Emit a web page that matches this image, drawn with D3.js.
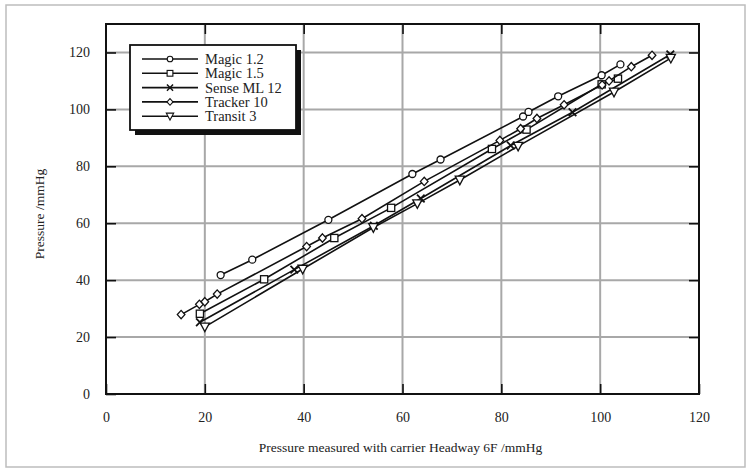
<!DOCTYPE html>
<html>
<head>
<meta charset="utf-8">
<script src="https://cdn.jsdelivr.net/npm/d3@7"></script>
<style>
  body { margin: 0; background: #fff; }
  text { font-family: "Liberation Serif", "DejaVu Serif", serif; fill: #222; }
</style>
</head>
<body>
<svg id="chart" width="751" height="472"></svg>
<script>
// series: [x, y] pairs
var magic12 = [[23.2, 41.8], [29.6, 47.2], [45.0, 61.2], [62.0, 77.3], [67.7, 82.4],
  [84.4, 97.5], [85.5, 99.1], [91.5, 104.6], [100.3, 112.0], [104.1, 115.8]];
var magic15 = [[19.0, 28.2], [32.0, 40.3], [46.2, 54.8], [57.7, 65.4], [78.1, 86.1],
  [85.1, 92.9], [100.3, 108.8], [103.6, 110.8]];
var senseML12 = [[19.0, 25.2], [38.1, 43.7], [54.2, 59.1], [63.7, 68.7], [81.9, 87.3],
  [94.4, 99.0], [114.2, 119.3]];
var tracker10 = [[15.2, 27.9], [18.9, 31.5], [20.0, 32.4], [22.5, 35.1], [40.6, 51.8],
  [43.8, 54.8], [51.8, 61.6], [64.4, 74.7], [79.7, 89.1], [83.9, 93.2], [87.2, 96.8],
  [92.7, 101.6], [100.4, 108.6], [101.8, 110.0], [106.3, 115.0], [110.5, 119.0]];
var transit3 = [[20.0, 23.6], [39.8, 43.9], [54.1, 58.5], [63.0, 66.9], [71.6, 75.2],
  [83.4, 87.1], [102.8, 106.1], [114.3, 118.0]];

var seriesNames = ["Magic 1.2", "Magic 1.5", "Sense ML 12", "Tracker 10", "Transit 3"];
var seriesData = [magic12, magic15, senseML12, tracker10, transit3];
var seriesMarks = ["circle", "square", "cross", "diamond", "triangle"];

var xTicks = [0, 20, 40, 60, 80, 100, 120];
var yTicks = [0, 20, 40, 60, 80, 100, 120];

var svg = d3.select("#chart");
var margin = { left: 106, right: 52, top: 24, bottom: 78 };
var width = 751 - margin.left - margin.right,
    height = 472 - margin.top - margin.bottom;

// light frame round the whole figure
svg.append("rect")
    .attr("x", 6).attr("y", 5)
    .attr("width", 739).attr("height", 462)
    .attr("fill", "none")
    .attr("stroke", "#bdbdbd")
    .attr("stroke-width", 1.5);

var g = svg.append("g").attr("transform", "translate(" + margin.left + "," + margin.top + ")");

var x = d3.scaleLinear().domain([0, 120]).range([0, width]);
var y = d3.scaleLinear().domain([0, 130]).range([height, 0]);

// grid
g.selectAll(".vgrid")
    .data(xTicks.slice(1, -1))
    .enter().append("line")
    .attr("x1", d => x(d)).attr("x2", d => x(d))
    .attr("y1", 0).attr("y2", height)
    .attr("stroke", "#a8a8a8").attr("stroke-width", 2);
g.selectAll(".hgrid")
    .data(yTicks.slice(1))
    .enter().append("line")
    .attr("x1", 0).attr("x2", width)
    .attr("y1", d => y(d)).attr("y2", d => y(d))
    .attr("stroke", "#a8a8a8").attr("stroke-width", 2);

// axes: ticks pointing inward on all four sides
function styleAxis(sel) {
  sel.select(".domain").remove();
  sel.selectAll(".tick line").attr("stroke", "#111").attr("stroke-width", 1.6);
  sel.selectAll(".tick text")
      .style("font-family", "'Liberation Serif', serif")
      .style("font-size", "14px")
      .attr("fill", "#222");
}

g.append("g")
    .attr("transform", "translate(0," + height + ")")
    .call(d3.axisBottom(x).tickValues(xTicks).tickSize(-10).tickPadding(18))
    .call(styleAxis);
g.append("g")
    .call(d3.axisTop(x).tickValues(xTicks.slice(1, -1)).tickSize(-10).tickFormat(""))
    .call(styleAxis);
g.append("g")
    .call(d3.axisLeft(y).tickValues(yTicks).tickSize(-10).tickPadding(16))
    .call(styleAxis);
g.append("g")
    .attr("transform", "translate(" + width + ",0)")
    .call(d3.axisRight(y).tickValues(yTicks.slice(1)).tickSize(-10).tickFormat(""))
    .call(styleAxis);

g.append("rect")
    .attr("width", width).attr("height", height)
    .attr("fill", "none").attr("stroke", "#111").attr("stroke-width", 2);

// markers
function drawMark(sel, kind) {
  if (kind === "circle") {
    sel.append("circle").attr("r", 3.5);
  } else if (kind === "square") {
    sel.append("rect").attr("x", -3.6).attr("y", -3.6).attr("width", 7.2).attr("height", 7.2);
  } else if (kind === "cross") {
    sel.append("path").attr("d", "M-3.8,-3.8L3.8,3.8M-3.8,3.8L3.8,-3.8").attr("stroke-width", 1.8);
  } else if (kind === "diamond") {
    sel.append("path").attr("d", "M0,-4.2L3.8,0L0,4.2L-3.8,0Z");
  } else {
    sel.append("path").attr("d", "M-4.6,-3.8L4.6,-3.8L0,4.8Z");
  }
}

var line = d3.line().x(d => x(d[0])).y(d => y(d[1]));

seriesData.forEach(function(data, i) {
  g.append("path")
      .datum(data)
      .attr("d", line)
      .attr("fill", "none")
      .attr("stroke", "#111")
      .attr("stroke-width", 1.6);

  g.selectAll(".pt" + i)
      .data(data)
      .enter().append("g")
      .attr("class", "pt" + i)
      .attr("transform", d => "translate(" + x(d[0]) + "," + y(d[1]) + ")")
      .attr("fill", "#fff")
      .attr("stroke", "#111")
      .attr("stroke-width", 1.3)
      .each(function() { drawMark(d3.select(this), seriesMarks[i]); });
});

// legend with drop shadow
var lg = svg.append("g").attr("transform", "translate(130,45)");
lg.append("rect")
    .attr("x", 5).attr("y", 5).attr("width", 166).attr("height", 85)
    .attr("fill", "#111");
lg.append("rect")
    .attr("width", 166).attr("height", 85)
    .attr("fill", "#fff").attr("stroke", "#111").attr("stroke-width", 1.8);

seriesNames.forEach(function(name, i) {
  var row = lg.append("g").attr("transform", "translate(0," + (14 + i * 14.3) + ")");
  row.append("line")
      .attr("x1", 12).attr("x2", 68)
      .attr("stroke", "#111").attr("stroke-width", 1.6);
  var m = row.append("g")
      .attr("transform", "translate(40,0) scale(0.8)")
      .attr("fill", "#fff").attr("stroke", "#111").attr("stroke-width", 1.4);
  drawMark(m, seriesMarks[i]);
  row.append("text")
      .attr("x", 75).attr("y", 5)
      .style("font-size", "14.5px")
      .text(name);
});

// axis titles
svg.append("text")
    .attr("x", margin.left + width / 2 - 2).attr("y", 452)
    .attr("text-anchor", "middle")
    .style("font-size", "13.5px")
    .text("Pressure measured with carrier Headway 6F /mmHg");
svg.append("text")
    .attr("transform", "translate(44," + (margin.top + 190) + ") rotate(-90)")
    .attr("text-anchor", "middle")
    .style("font-size", "13.5px")
    .text("Pressure /mmHg");
</script>
</body>
</html>
